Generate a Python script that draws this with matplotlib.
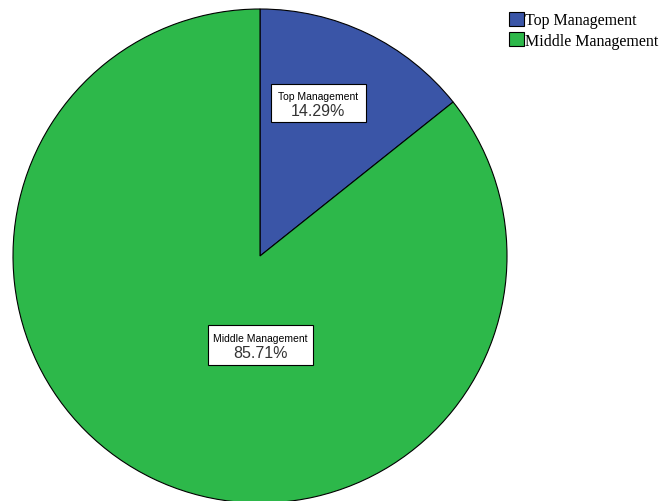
import matplotlib.pyplot as plt
from matplotlib.patches import Patch, Rectangle

labels = ["Top Management", "Middle Management"]
shares = [14.29, 85.71]
colors = ["#3a55a7", "#2db84a"]

W, H = 662, 502
fig = plt.figure(figsize=(W / 100, H / 100), dpi=100)
ax = fig.add_axes([0, 0, 1, 1])

cx, cy, r = 260, H - 257, 247
wedges, _ = ax.pie(shares, colors=colors, startangle=90, counterclock=False,
                   center=(cx, cy), radius=r,
                   wedgeprops=dict(edgecolor="black", linewidth=0.8))
ax.set_xlim(0, W)
ax.set_ylim(0, H)
ax.set_aspect("equal")
ax.axis("off")

# label boxes: centre (px from top-left), width, height
boxes = [((318, 104), 95, 38), ((260, 346), 105, 40)]
for name, val, ((x, y), bw, bh) in zip(labels, shares, boxes):
    yy = H - y
    ax.add_patch(Rectangle((x - bw / 2, yy - bh / 2), bw, bh,
                           fc="white", ec="black", lw=0.8, zorder=3))
    ax.text(x, yy + 7, name, ha="center", va="center", fontsize=7.5,
            family="Liberation Sans", zorder=4)
    ax.text(x, yy - 8, f"{val:.2f}%", ha="center", va="center", fontsize=11.5,
            family="Liberation Sans", color="#333333", zorder=4)

handles = [Patch(facecolor=c, edgecolor="black", linewidth=0.8) for c in colors]
ax.legend(handles, labels, loc="upper right", bbox_to_anchor=(0.995, 0.975),
          frameon=False, prop=dict(family="Liberation Serif", size=11.5),
          handlelength=0.9, handleheight=1.0, handletextpad=0.1,
          labelspacing=0.25, borderaxespad=0.0, borderpad=0.0)

fig.savefig("out.png", dpi=100)
